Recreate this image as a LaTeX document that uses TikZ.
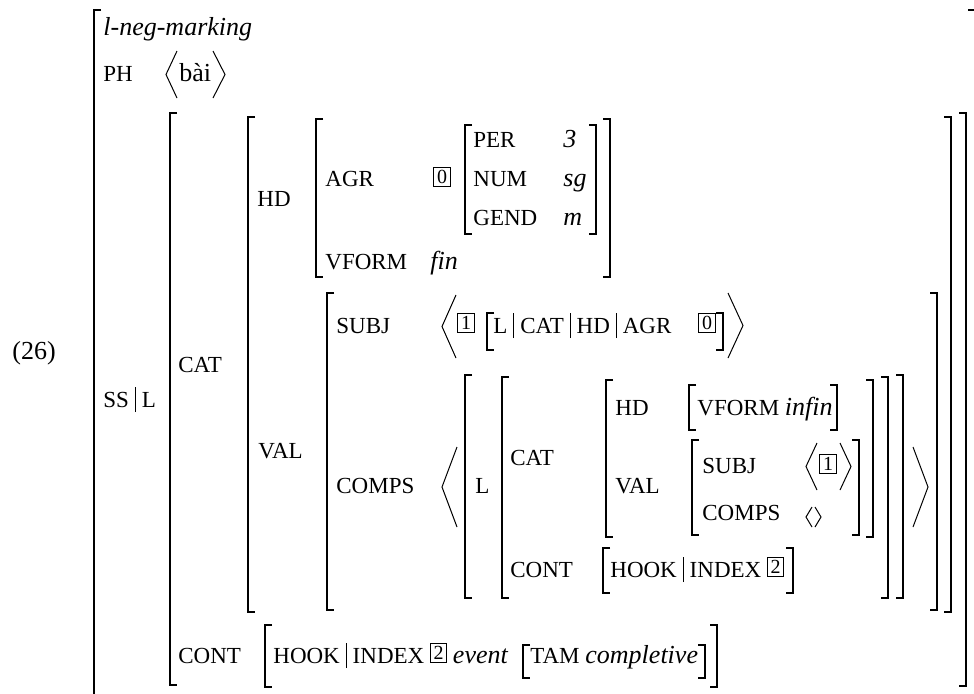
\documentclass[tikz,border=0pt]{standalone}
\usepackage{fontspec}
\setmainfont{Liberation Serif}
\usepackage{tikz}

\newcommand{\pbar}{\hspace{3pt}\vrule height 10pt depth 2.5pt width 0.45pt\hspace{3pt}}
\newcommand{\tbox}[1]{{\fboxsep=1.4pt\fboxrule=0.4pt\raisebox{1.8pt}{\fbox{\fontsize{10}{10}\selectfont #1}}}}

\begin{document}
\begin{tikzpicture}[x=0.5pt,y=-0.5pt,
  feat/.style={anchor=base west,inner sep=0pt,font=\fontsize{11.5}{13}\selectfont},
  txt/.style={anchor=base west,inner sep=0pt,font=\fontsize{13}{15}\selectfont},
  brk/.style={line width=0.7pt},
  ang/.style={line width=0.5pt}]
\useasboundingbox (0,0) rectangle (974,693);
\clip (0,0) rectangle (974,693);
\node[txt] (ex) at (12,359) {(26)};
\node[txt] (type) at (103,35) {\textit{l-neg-marking}};
\node[feat] (ph) at (103,81) {PH};
\node[txt] (phval) at (179,81) {bài};
\node[feat] (ssl) at (103,407) {SS\pbar L};
\node[feat] (cat) at (178,372) {CAT};
\node[feat] (hd) at (257,206) {HD};
\node[feat] (agr) at (325,186) {AGR};
\node[txt] (tagz) at (433,187) {\tbox{0}};
\node[feat] (per) at (473,147) {PER};
\node[feat] (num) at (473,186) {NUM};
\node[feat] (gend) at (473,225) {GEND};
\node[txt] (perv) at (563,147) {\textit{3}};
\node[txt] (numv) at (563,186) {\textit{sg}};
\node[txt] (gendv) at (563,225) {\textit{m}};
\node[feat] (vform) at (325,269) {VFORM};
\node[txt] (vformv) at (430,269) {\textit{fin}};
\node[feat] (val) at (258,458) {VAL};
\node[feat] (subj) at (336,333) {SUBJ};
\node[txt] (tago) at (457,333) {\tbox{1}};
\node[feat] (agrpath) at (493,333) {L\pbar CAT\pbar HD\pbar AGR};
\node[txt] (tagzb) at (698,333) {\tbox{0}};
\node[feat] (comps) at (336,493) {COMPS};
\node[feat] (loc) at (475,493) {L};
\node[feat] (catb) at (510,465) {CAT};
\node[feat] (hdb) at (615,415) {HD};
\node[feat] (vformb) at (697,415) {VFORM {\fontsize{13}{15}\selectfont\itshape infin}};
\node[feat] (valb) at (615,493) {VAL};
\node[feat] (subjb) at (702,473) {SUBJ};
\node[txt] (tagob) at (819,474) {\tbox{1}};
\node[feat] (compsb) at (702,520) {COMPS};
\node[feat] (contb) at (510,577) {CONT};
\node[feat] (hookb) at (610,577) {HOOK\pbar INDEX \tbox{2}};
\node[feat] (cont) at (178,663) {CONT};
\node[feat] (hook) at (273,663) {HOOK\pbar INDEX \tbox{2} {\fontsize{13}{15}\selectfont\itshape event}};
\node[feat] (tam) at (530,663) {TAM {\fontsize{13}{15}\selectfont\itshape completive}};
\foreach \x/\t/\b in {94/10/700,170/113/685,248/117/612,316/119/277,465/125/234,
  327/293/610,487/313/350,465/375/598,502/377/598,606/380/537,689/385/430,
  692/440/535,603/548/593,265/625/687,523/645/678}
\draw[brk] (\x+7,\t) -- (\x,\t) -- (\x,\b) -- (\x+7,\b);
\foreach \x/\t/\b in {975/10/700,966/113/686,951/117/612,610/119/277,596/125/234,
  937/293/610,723/313/350,903/375/598,888/377/598,873/380/537,837/385/430,
  859/440/535,793/548/593,717/625/687,705/645/678}
\draw[brk] (\x-7,\t) -- (\x,\t) -- (\x,\b) -- (\x-7,\b);
\foreach \p/\o/\t/\b in {166/177/51/98,225/213/51/98,442/456/295/358,743/728/293/358,
  442/457/447/527,928/913/447/527,806/817/443/490,851/840/443/490,806/812/507/527,821/815/507/527}
\draw[ang] (\o,\t) -- (\p,{(\t+\b)/2}) -- (\o,\b);
\end{tikzpicture}
\end{document}
